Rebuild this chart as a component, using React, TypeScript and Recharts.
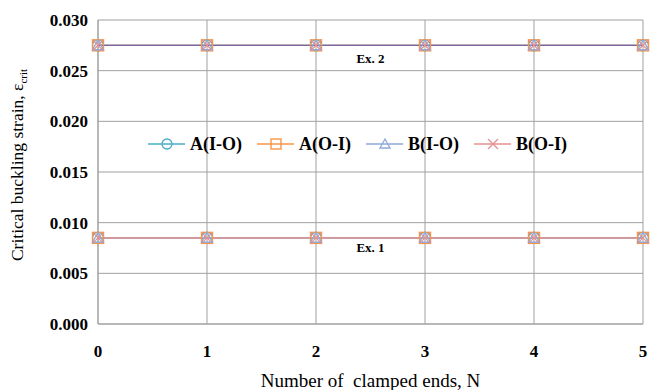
import { LineChart, Line, XAxis, YAxis, CartesianGrid, ReferenceDot } from 'recharts'

const clampedEnds = [0, 1, 2, 3, 4, 5]
// Ex. 1 values
const ex1AIO = [0.0085, 0.0085, 0.0085, 0.0085, 0.0085, 0.0085]
const ex1AOI = [0.0085, 0.0085, 0.0085, 0.0085, 0.0085, 0.0085]
const ex1BIO = [0.0085, 0.0085, 0.0085, 0.0085, 0.0085, 0.0085]
const ex1BOI = [0.0085, 0.0085, 0.0085, 0.0085, 0.0085, 0.0085]
// Ex. 2 values
const ex2AIO = [0.0275, 0.0275, 0.0275, 0.0275, 0.0275, 0.0275]
const ex2AOI = [0.0275, 0.0275, 0.0275, 0.0275, 0.0275, 0.0275]
const ex2BIO = [0.0275, 0.0275, 0.0275, 0.0275, 0.0275, 0.0275]
const ex2BOI = [0.0275, 0.0275, 0.0275, 0.0275, 0.0275, 0.0275]
const yTicks = [0, 0.005, 0.01, 0.015, 0.02, 0.025, 0.03]
const seriesNames = ['A(I-O)', 'A(O-I)', 'B(I-O)', 'B(O-I)']

const COLORS: Record<string, string> = {
  circle: '#4bacc6',
  square: '#f79646',
  triangle: '#8ea9db',
  cross: '#e6908f',
}
const SHAPES = ['circle', 'square', 'triangle', 'cross']

const data = clampedEnds.map((n, i) => ({
  n,
  e1a: ex1AIO[i],
  e1b: ex1AOI[i],
  e1c: ex1BIO[i],
  e1d: ex1BOI[i],
  e2a: ex2AIO[i],
  e2b: ex2AOI[i],
  e2c: ex2BIO[i],
  e2d: ex2BOI[i],
}))

const SERIF = '"Liberation Serif", "Times New Roman", serif'

function Marker({ shape, cx, cy, s = 5.5 }: { shape: string; cx: number; cy: number; s?: number }) {
  const c = COLORS[shape]
  if (shape === 'circle') return <circle cx={cx} cy={cy} r={s} fill="none" stroke={c} strokeWidth={1.3} />
  if (shape === 'square')
    return <rect x={cx - s} y={cy - s} width={2 * s} height={2 * s} fill="none" stroke={c} strokeWidth={1.4} />
  if (shape === 'triangle')
    return (
      <polygon
        points={`${cx},${cy - s} ${cx + s},${cy + s * 0.8} ${cx - s},${cy + s * 0.8}`}
        fill="none"
        stroke={c}
        strokeWidth={1.3}
      />
    )
  return (
    <g stroke={c} strokeWidth={1.3}>
      <line x1={cx - s} y1={cy - s} x2={cx + s} y2={cy + s} />
      <line x1={cx - s} y1={cy + s} x2={cx + s} y2={cy - s} />
    </g>
  )
}

function LegendBox() {
  return (
    <div
      style={{
        position: 'absolute',
        left: 148,
        top: 134,
        display: 'flex',
        gap: 15,
        fontFamily: SERIF,
        fontSize: 18,
        fontWeight: 'bold',
        color: '#000',
        lineHeight: '20px',
      }}
    >
      {seriesNames.map((name, i) => {
        const shape = SHAPES[i]
        return (
          <div key={name} style={{ display: 'flex', alignItems: 'center' }}>
            <svg width={37} height={16}>
              <line x1={0} y1={8} x2={37} y2={8} stroke={COLORS[shape]} strokeWidth={1.3} />
              <Marker shape={shape} cx={19} cy={8} s={5} />
            </svg>
            <span style={{ marginLeft: 5 }}>{name}</span>
          </div>
        )
      })}
    </div>
  )
}

function YLabel() {
  return (
    <text
      transform="translate(23,165) rotate(-90)"
      textAnchor="middle"
      fontFamily={SERIF}
      fontSize={17.5}
      fill="#000"
    >
      Critical buckling strain, ε
      <tspan fontSize={11} dy={4}>crit</tspan>
    </text>
  )
}

const keysEx1 = ['e1a', 'e1b', 'e1c', 'e1d']
const keysEx2 = ['e2a', 'e2b', 'e2c', 'e2d']

export default function App() {
  return (
    <div style={{ position: 'relative', width: 651, height: 390 }}>
      <style>{'body{margin:0;overflow:hidden}'}</style>
      <LineChart width={651} height={390} data={data} margin={{ top: 20, right: 8, left: 0, bottom: 0 }}>
        <CartesianGrid stroke="#a0a0a0" strokeWidth={1} />
        <XAxis
          dataKey="n"
          type="number"
          domain={[0, 5]}
          ticks={clampedEnds}
          height={66}
          stroke="#a0a0a0"
          tickLine={false}
          tick={{ fill: '#000', fontFamily: SERIF, fontSize: 17, fontWeight: 'bold' }}
          tickMargin={15}
          label={{
            value: 'Number of\u00a0 clamped ends, N',
            position: 'insideBottom',
            offset: 3,
            style: { fill: '#000', fontFamily: SERIF, fontSize: 19 },
          }}
        />
        <YAxis
          type="number"
          domain={[0, 0.03]}
          ticks={yTicks}
          width={98}
          stroke="#a0a0a0"
          tickLine={false}
          tickFormatter={(v: number) => v.toFixed(3)}
          tick={{ fill: '#000', fontFamily: SERIF, fontSize: 17, fontWeight: 'bold' }}
          tickMargin={4}
          label={<YLabel />}
        />
        {[...keysEx1, ...keysEx2].map((k, i) => {
          const shape = SHAPES[i % 4]
          const isEx2 = i >= 4
          let stroke = COLORS[shape]
          if (isEx2 && shape === 'cross') stroke = '#8064a2'
          return (
            <Line
              key={k}
              dataKey={k}
              name={seriesNames[i % 4]}
              stroke={stroke}
              strokeWidth={1.3}
              isAnimationActive={false}
              legendType="none"
              dot={(p: any) => <Marker key={`${k}-${p.index}`} shape={shape} cx={p.cx} cy={p.cy} />}
              activeDot={false}
            />
          )
        })}
        <ReferenceDot
          x={2.5}
          y={0.0275}
          r={0}
          label={{
            value: 'Ex. 2',
            position: 'bottom',
            offset: 8,
            style: { fill: '#000', fontFamily: SERIF, fontSize: 13, fontWeight: 'bold' },
          }}
        />
        <ReferenceDot
          x={2.5}
          y={0.0085}
          r={0}
          label={{
            value: 'Ex. 1',
            position: 'bottom',
            offset: 5,
            style: { fill: '#000', fontFamily: SERIF, fontSize: 13, fontWeight: 'bold' },
          }}
        />
      </LineChart>
      <LegendBox />
    </div>
  )
}
